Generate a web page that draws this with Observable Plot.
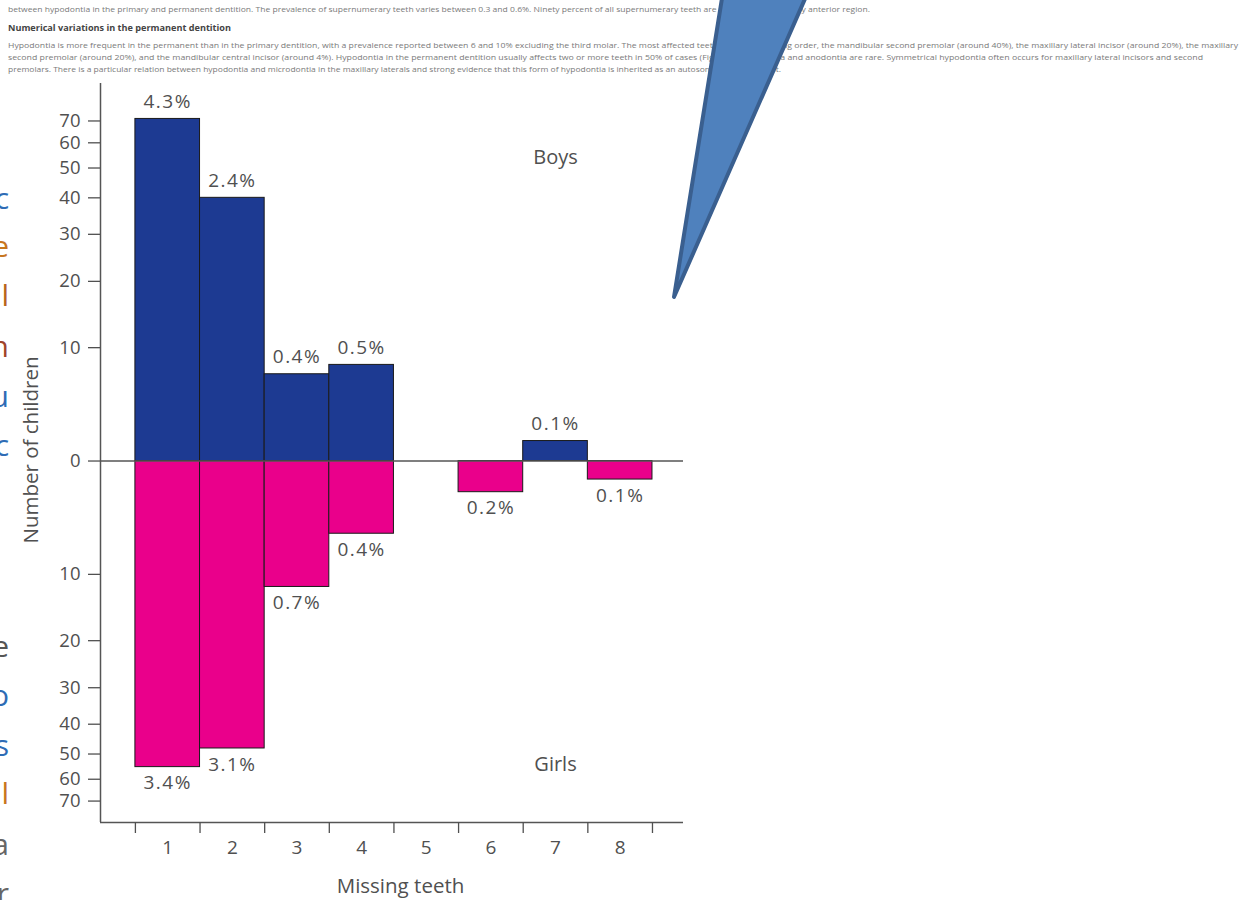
<!DOCTYPE html>
<html>
<head>
<meta charset="utf-8">
<script src="https://cdn.jsdelivr.net/npm/d3@7"></script>
<script src="https://cdn.jsdelivr.net/npm/@observablehq/plot@0.6"></script>
<style>
  html, body { margin: 0; padding: 0; background: #fff; }
  #page { position: relative; width: 1256px; height: 900px; overflow: hidden; font-family: "Open Sans", sans-serif; }
  #chart { position: absolute; left: 0; top: 0; }
  #overlay { position: absolute; left: 0; top: 0; pointer-events: none; }
</style>
</head>
<body>
<div id="page">
  <svg id="text-layer" width="1256" height="900" style="position:absolute;left:0;top:0"></svg>
  <div id="chart"></div>
  <svg id="overlay" width="1256" height="900"></svg>
</div>
<script>
// Number of missing permanent teeth per child
const teeth = [1, 2, 3, 4, 5, 6, 7, 8];
// Number of children (boys above the axis, girls below)
const boys  = [71, 40, 7, 8, 0, 0, 1.3, 0];
const girls = [55, 48, 11.6, 5.6, 0, 2.1, 0, 1.2];
// Prevalence printed next to each bar
const boysPct  = ["4.3%", "2.4%", "0.4%", "0.5%", "", "", "0.1%", ""];
const girlsPct = ["3.4%", "3.1%", "0.7%", "0.4%", "", "0.2%", "", "0.1%"];
// Axis ticks (absolute values shown on both sides of zero)
const yTicks = [-70, -60, -50, -40, -30, -20, -10, 0, 10, 20, 30, 40, 50, 60, 70];
const groupLabels = ["Boys", "Girls"];

const rows = teeth.map((t, i) => ({t, boys: boys[i], girls: -girls[i], bp: boysPct[i], gp: girlsPct[i]}));
const bounds = teeth.map(t => t - 0.5).concat([teeth[teeth.length - 1] + 0.5]);
const xMin = -0.04, xMax = 8.98, yMin = -81.2, yMax = 90.6;
const ink = "#505050";

const chart = Plot.plot({
  width: 700,
  height: 900,
  marginLeft: 100,
  marginRight: 17,
  marginTop: 83,
  marginBottom: 78,
  style: {fontFamily: '"Open Sans", sans-serif', fontSize: "19px", color: ink, background: "transparent", overflow: "visible"},
  x: {domain: [xMin, xMax], axis: null},
  y: {type: "symlog", constant: 10, domain: [yMin, yMax], axis: null},
  marks: [
    Plot.rect(rows.filter(d => d.boys > 0), {x1: d => d.t - 0.5, x2: d => d.t + 0.5, y1: 0, y2: "boys", fill: "#1d3a92", stroke: "#1a1a1a", strokeWidth: 1}),
    Plot.rect(rows.filter(d => d.girls < 0), {x1: d => d.t - 0.5, x2: d => d.t + 0.5, y1: 0, y2: "girls", fill: "#ea008b", stroke: "#1a1a1a", strokeWidth: 1}),
    Plot.ruleY([0], {stroke: "#555", strokeWidth: 1.3}),
    Plot.ruleX([xMin], {stroke: "#555", strokeWidth: 1.5}),
    Plot.ruleY([yMin], {stroke: "#555", strokeWidth: 1.5}),
    Plot.axisY({ticks: yTicks, tickFormat: d => Math.abs(d), tickSize: 12, tickPadding: 8, fontSize: 18.5, label: null, strokeWidth: 1.3}),
    Plot.axisX({ticks: bounds, tickSize: 11, tickFormat: () => "", label: null, strokeWidth: 1.3}),
    Plot.axisX({ticks: teeth, tickSize: 0, tickPadding: 18, fontSize: 19, label: null}),
    Plot.text(rows.filter(d => d.bp), {x: "t", y: "boys", text: "bp", dy: -17, fontSize: 19, fill: ink}),
    Plot.text(rows.filter(d => d.gp), {x: "t", y: "girls", text: "gp", dy: 16, fontSize: 19, fill: ink}),
    Plot.text([groupLabels[0]], {x: 7, y: 54, text: d => d, fontSize: 20, fill: ink}),
    Plot.text([groupLabels[1]], {x: 7, y: -54, text: d => d, fontSize: 20, fill: ink}),
    Plot.text(["Number of children"], {frameAnchor: "left", textAnchor: "middle", rotate: -90, dx: -69, dy: -3, fontSize: 20.5, fill: ink}),
    Plot.text(["Missing teeth"], {frameAnchor: "bottom", textAnchor: "middle", dx: 8.5, dy: 70, fontSize: 20.5, fill: ink})
  ]
});
document.getElementById("chart").appendChild(chart);
// Slightly looser spacing for the percentage labels
d3.select(chart).selectAll("text").filter(function () { return /%$/.test(this.textContent); })
  .style("letter-spacing", "1.5px");

// Surrounding textbook text
const body = d3.select("#text-layer");
const lines = [
  {y: 12, end: 870, bold: false, s: "between hypodontia in the primary and permanent dentition. The prevalence of supernumerary teeth varies between 0.3 and 0.6%. Ninety percent of all supernumerary teeth are found in the maxillary anterior region."},
  {y: 31, end: 231, bold: true, s: "Numerical variations in the permanent dentition"},
  {y: 48, end: 1238, bold: false, s: "Hypodontia is more frequent in the permanent than in the primary dentition, with a prevalence reported between 6 and 10% excluding the third molar. The most affected teeth are, in decreasing order, the mandibular second premolar (around 40%), the maxillary lateral incisor (around 20%), the maxillary"},
  {y: 60, end: 1203, bold: false, s: "second premolar (around 20%), and the mandibular central incisor (around 4%). Hypodontia in the permanent dentition usually affects two or more teeth in 50% of cases (Fig. 2.6). Oligodontia and anodontia are rare. Symmetrical hypodontia often occurs for maxillary lateral incisors and second"},
  {y: 72, end: 781, bold: false, s: "premolars. There is a particular relation between hypodontia and microdontia in the maxillary laterals and strong evidence that this form of hypodontia is inherited as an autosomal dominant trait."}
];
for (const l of lines) {
  body.append("text")
    .attr("x", 8).attr("y", l.y)
    .attr("textLength", l.end - 8).attr("lengthAdjust", "spacingAndGlyphs")
    .attr("font-family", '"Open Sans", sans-serif')
    .attr("font-size", 8)
    .attr("font-weight", l.bold ? 700 : 400)
    .attr("fill", l.bold ? "#444" : "#7a7a7a")
    .text(l.s);
}

// Clipped letters from the adjacent column of text
const edge = [
  {y: 209, c: "c", f: "#2e6cb5"}, {y: 257, c: "e", f: "#c8761e"}, {y: 306, c: "l", f: "#b8651c"},
  {y: 357, c: "n", f: "#a0442a"}, {y: 407, c: "u", f: "#2e6cb5"}, {y: 456, c: "c", f: "#2e6cb5"},
  {y: 657, c: "e", f: "#555"}, {y: 706, c: "o", f: "#2e6cb5"}, {y: 756, c: "s", f: "#2e6cb5"},
  {y: 804, c: "l", f: "#c8761e"}, {y: 855, c: "a", f: "#666"}, {y: 904, c: "r", f: "#666"}
];
for (const e of edge) {
  body.append("text").attr("x", 9).attr("y", e.y).attr("text-anchor", "end")
    .attr("font-family", '"Open Sans", sans-serif').attr("font-size", 30)
    .attr("fill", e.f).text(e.c);
}

// Callout pointer
d3.select("#overlay").append("polygon")
  .attr("points", "723,-8 808,-8 674,297")
  .attr("fill", "#4f81bd")
  .attr("stroke", "#3a5f8f")
  .attr("stroke-width", 4)
  .attr("stroke-linejoin", "round");
</script>
</body>
</html>
